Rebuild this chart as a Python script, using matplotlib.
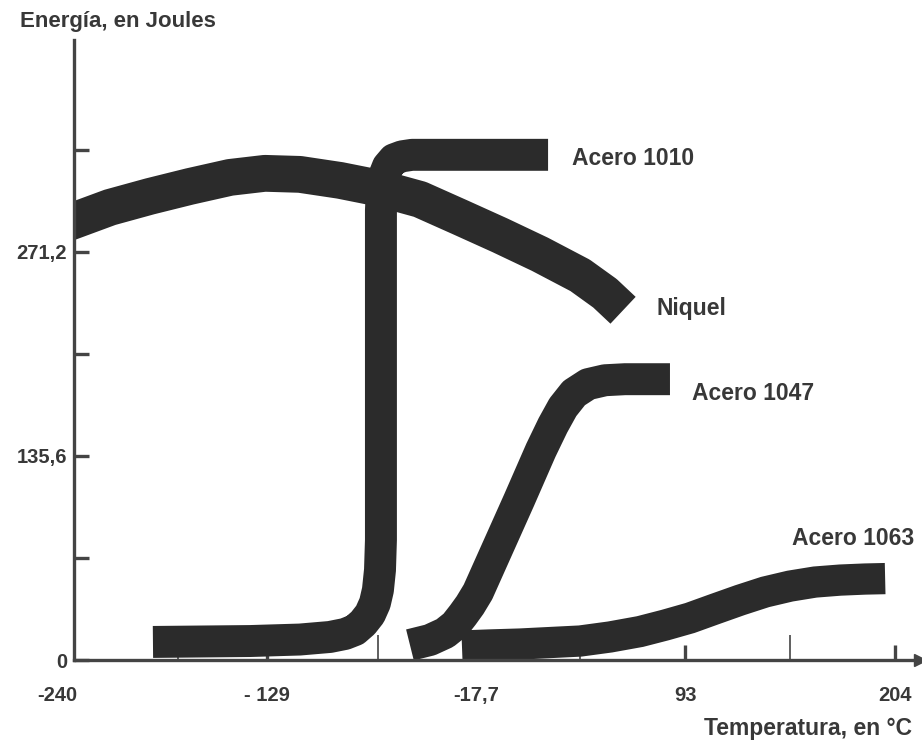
import matplotlib
matplotlib.use("Agg")
import matplotlib.pyplot as plt

plt.rcParams['font.family'] = ['Liberation Sans', 'DejaVu Sans']
plt.rcParams['font.weight'] = 'bold'

# temperatura (C) y energia (J) de cada curva
niquel_t = [-236.0, -230.7, -212.1, -190.9, -169.7, -148.4, -129.9, -111.3, -90.0,
            -68.8, -47.6, -26.3, -5.1, 16.1, 37.4, 50.6, 60.2]
niquel_e = [289.8, 292.2, 300.8, 308.1, 314.7, 320.7, 323.4, 322.7, 318.7,
            313.4, 306.1, 294.2, 282.2, 269.6, 255.6, 243.7, 232.4]

a1010_t = [-189.3, -137.8, -111.3, -95.4, -87.4, -82.1, -77.8, -74.1, -71.5, -69.9,
           -68.8, -68.3, -68.3, -67.8, -66.7, -64.6, -61.4, -57.1, -51.8, 20.4]
a1010_e = [12.0, 12.6, 13.6, 15.3, 17.3, 19.9, 24.6, 30.5, 37.8, 46.5,
           59.8, 79.7, 298.8, 312.1, 321.4, 328.0, 332.7, 334.7, 335.7, 335.7]

a1047_t = [-52.9, -42.3, -34.3, -29.0, -24.8, -21.0, -16.8, 5.0, 16.6,
           23.0, 28.3, 34.2, 41.6, 50.6, 61.2, 85.1]
a1047_e = [10.0, 13.3, 17.9, 23.2, 29.9, 36.5, 45.2, 106.2, 139.4,
           156.0, 168.0, 177.3, 183.3, 185.9, 186.6, 186.6]

a1063_t = [-25.3, -10.4, 5.5, 21.4, 37.4, 53.3, 69.2, 82.5, 95.7,
           109.0, 122.3, 135.6, 148.8, 162.1, 175.4, 188.6, 199.3]
a1063_e = [9.3, 10.0, 10.6, 11.6, 12.6, 15.3, 18.9, 23.2, 27.9,
           33.9, 39.8, 45.2, 49.1, 51.8, 53.1, 53.8, 54.1]

xticks = [-128.9, -17.8, 93.3, 204.4]
xticklabels = ['- 129', '-17,7', '93', '204']
xminor = [-176.0, -70.0, 37.4, 148.8]
yticks = [0, 67.8, 135.6, 203.4, 271.2, 339.0]
yticklabels = ['0', '', '135,6', '', '271,2', '']

ink = '#2b2b2b'
txt = '#383838'
axc = '#444444'

fig = plt.figure(figsize=(9.22, 7.47), dpi=100)
ax = fig.add_axes([74/922, 87/747, 846/922, 620/747])
ax.set_xlim(-231.2, 217.8)
ax.set_ylim(0, 412)

kw = dict(color=ink, solid_capstyle='butt', solid_joinstyle='round', zorder=2)
ax.plot(niquel_t, niquel_e, lw=26.5, **kw)
ax.plot(a1010_t, a1010_e, lw=23, **kw)
ax.plot(a1047_t, a1047_e, lw=23, **kw)
ax.plot(a1063_t, a1063_e, lw=22.5, **kw)

for s in ['top', 'right']:
    ax.spines[s].set_visible(False)
for s in ['left', 'bottom']:
    ax.spines[s].set_color(axc)
    ax.spines[s].set_linewidth(2.4)
    ax.spines[s].set_zorder(3)

ax.set_yticks(yticks)
ax.set_yticklabels(yticklabels)
ax.set_xticks(xticks)
ax.set_xticklabels(xticklabels)
ax.set_xticks(xminor, minor=True)
ax.tick_params(axis='y', direction='in', length=11, width=2.4, pad=5,
               labelsize=14.5, color=axc, labelcolor=txt)
ax.tick_params(axis='x', which='major', direction='in', length=11, width=2.4, pad=19,
               labelsize=14.5, color=axc, labelcolor=txt)
ax.tick_params(axis='x', which='minor', direction='in', length=18, width=1.2, color=axc)

ax.annotate('-240', xy=(-240, 0), xycoords=('data', 'axes fraction'),
            xytext=(0, -19), textcoords='offset points', ha='center', va='top',
            fontsize=14.5, color=txt, annotation_clip=False)

# flecha del eje x
ax.plot([1], [0], marker='>', ms=9, color=axc, transform=ax.transAxes, clip_on=False, zorder=4)

ax.text(33.1, 328.7, 'Acero 1010', fontsize=16.5, color=txt, va='baseline')
ax.text(78.2, 229.1, 'Niquel', fontsize=16.5, color=txt, va='baseline')
ax.text(96.8, 172.6, 'Acero 1047', fontsize=16.5, color=txt, va='baseline')
ax.text(149.9, 76.4, 'Acero 1063', fontsize=16.5, color=txt, va='baseline')

fig.text(20/922, 1 - 27/747, 'Energía, en Joules', ha='left', va='baseline',
         fontsize=16, color=txt)
fig.text(912/922, 1 - 735/747, 'Temperatura, en °C', ha='right', va='baseline',
         fontsize=16.5, color=txt)

fig.savefig('out.png', dpi=100)
